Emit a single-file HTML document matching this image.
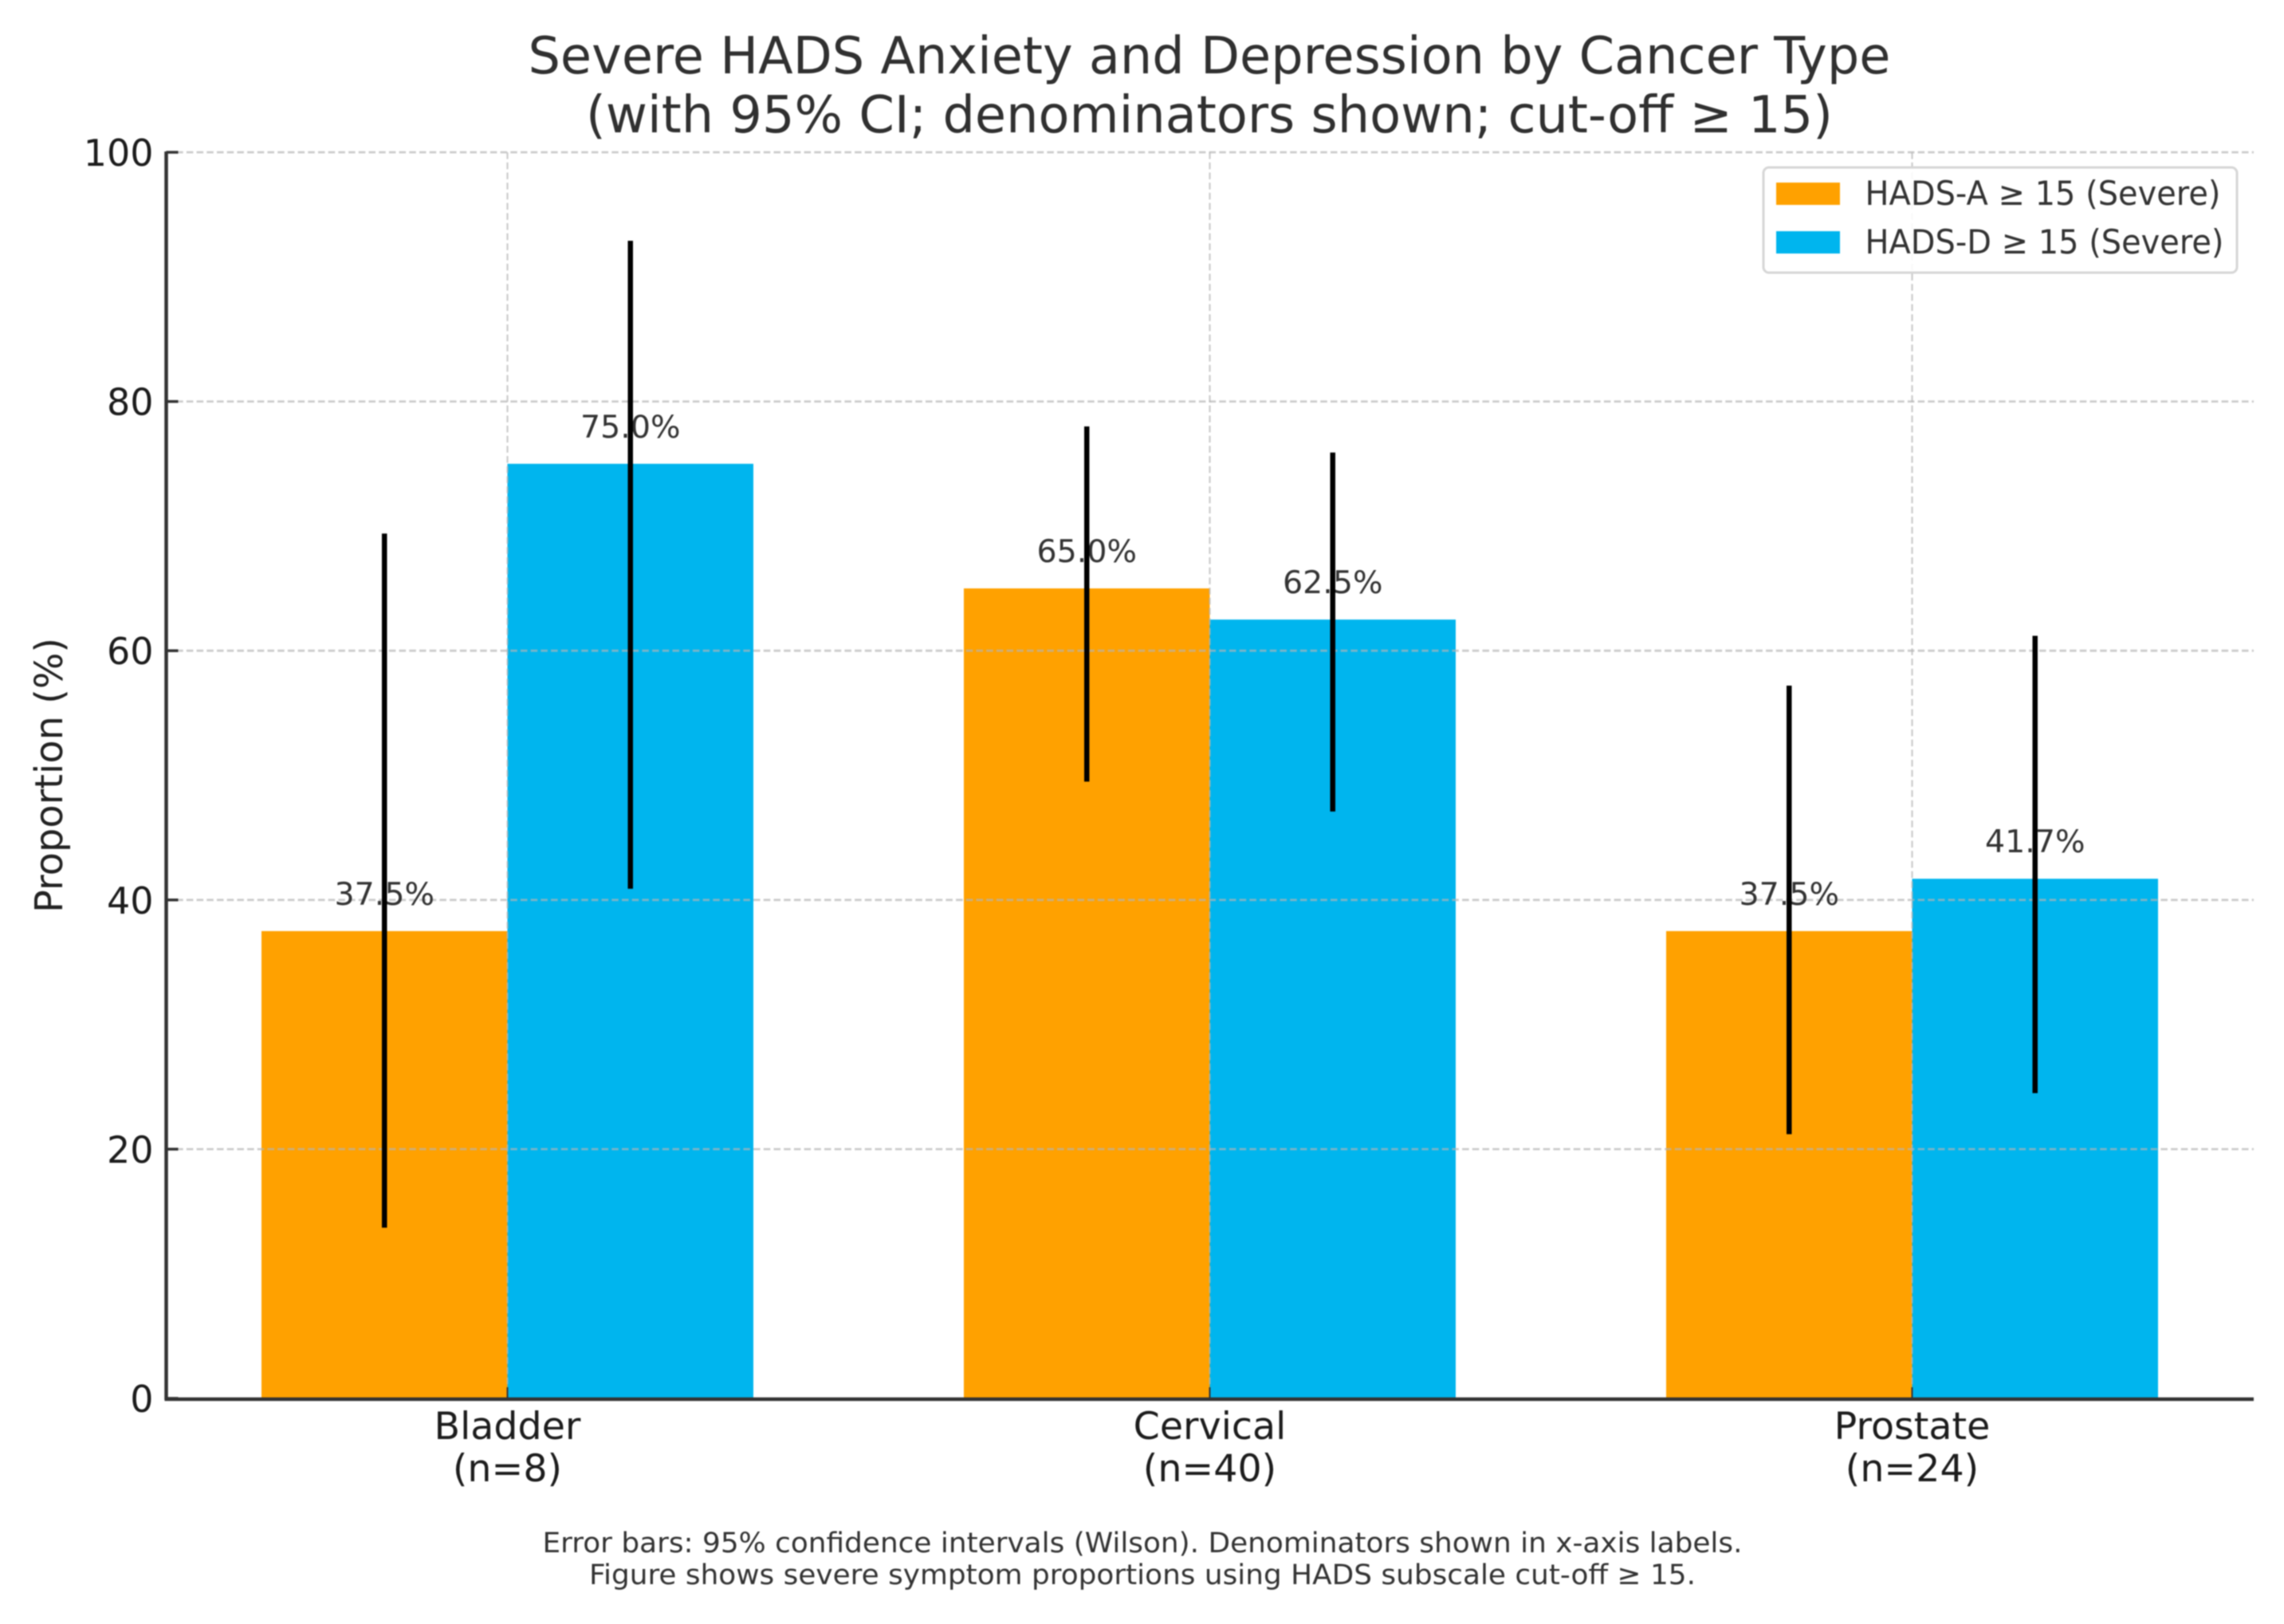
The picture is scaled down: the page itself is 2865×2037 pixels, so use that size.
<!DOCTYPE html>
<html lang="en">
<head>
<meta charset="utf-8">
<title>Severe HADS Anxiety and Depression by Cancer Type</title>
<style>
html,body{margin:0;padding:0;background:#fff;width:2865px;height:2037px;overflow:hidden}
svg{display:block;filter:blur(0.8px)}
text{font-family:"DejaVu Sans","Liberation Sans",sans-serif}
</style>
</head>
<body>
<svg id="chart" xmlns="http://www.w3.org/2000/svg" width="2865" height="2037" viewBox="0 0 2865 2037">
  <rect x="0" y="0" width="2865" height="2037" fill="#ffffff"/>
  <g id="bars"></g>
  <g id="grid"></g>
  <g id="value-labels"></g>
  <g id="errors"></g>
  <g id="axes"></g>

  <text x="1517" y="92" text-anchor="middle" font-size="64" fill="#303030" textLength="1709" lengthAdjust="spacingAndGlyphs">Severe HADS Anxiety and Depression by Cancer Type</text>
  <text x="1517" y="166" text-anchor="middle" font-size="64" fill="#303030" textLength="1564" lengthAdjust="spacingAndGlyphs">(with 95% CI; denominators shown; cut-off ≥ 15)</text>
  <text transform="translate(78,972.5) rotate(-90)" text-anchor="middle" font-size="48" fill="#222222" textLength="345" lengthAdjust="spacingAndGlyphs">Proportion (%)</text>

  <g>
    <rect x="2212" y="210" width="594" height="132" rx="7" ry="7" fill="#ffffff" fill-opacity="0.88" stroke="#d6d6d6" stroke-width="3"/>
    <rect x="2228" y="229" width="80" height="28" fill="#ffa100"/>
    <text x="2339.5" y="257" font-size="41.5" fill="#333333" textLength="446" lengthAdjust="spacingAndGlyphs">HADS-A ≥ 15 (Severe)</text>
    <rect x="2228" y="290" width="80" height="28" fill="#00b5ee"/>
    <text x="2339.5" y="318" font-size="41.5" fill="#333333" textLength="450" lengthAdjust="spacingAndGlyphs">HADS-D ≥ 15 (Severe)</text>
  </g>

  <text x="1433" y="1947" text-anchor="middle" font-size="35" fill="#333333" textLength="1505" lengthAdjust="spacingAndGlyphs">Error bars: 95% confidence intervals (Wilson). Denominators shown in x-axis labels.</text>
  <text x="1433" y="1987" text-anchor="middle" font-size="35" fill="#333333" textLength="1388" lengthAdjust="spacingAndGlyphs">Figure shows severe symptom proportions using HADS subscale cut-off ≥ 15.</text>
</svg>

<script>
const categories = ["Bladder", "Cervical", "Prostate"];
const denominators = [8, 40, 24];
const anxietyValues = [37.5, 65.0, 37.5];
const depressionValues = [75.0, 62.5, 41.7];
const anxietyCiLow = [13.7, 49.5, 21.2];
const anxietyCiHigh = [69.4, 78.0, 57.2];
const depressionCiLow = [40.9, 47.1, 24.5];
const depressionCiHigh = [92.9, 75.9, 61.2];
const yTicks = [0, 20, 40, 60, 80, 100];

const NS = "http://www.w3.org/2000/svg";
const plotLeft = 208.5, plotRight = 2827, plotBottom = 1754, plotTop = 191;
const groupWidth = 881, firstCenter = 636.5, barWidth = 308.5;

function yScale(v) { return plotBottom + (plotTop - plotBottom) * (v / 100); }
function xScale(i) { return firstCenter + groupWidth * i; }

function make(tag, parent, attrs, content) {
  const el = document.createElementNS(NS, tag);
  for (const k in attrs) el.setAttribute(k, attrs[k]);
  if (content !== undefined) el.textContent = content;
  parent.appendChild(el);
  return el;
}

const barsG = document.getElementById("bars");
const gridG = document.getElementById("grid");
const labelsG = document.getElementById("value-labels");
const errorsG = document.getElementById("errors");
const axesG = document.getElementById("axes");

function drawSeries(values, low, high, offsetSign, color, key) {
  values.forEach(function (v, i) {
    const cx = xScale(i) + offsetSign * barWidth / 2;
    const top = yScale(v);

    const bar = make("rect", barsG, { x: cx - barWidth / 2, y: top, width: barWidth, height: plotBottom - top, fill: color });
    
    

    const label = make("text", labelsG, { x: cx, y: top - 33, "text-anchor": "middle", "font-size": 39.5, fill: "#333333" }, v.toFixed(1) + "%");
    
    

    const err = make("line", errorsG, { x1: cx, x2: cx, y1: yScale(low[i]), y2: yScale(high[i]), stroke: "#000000", "stroke-width": 6.5 });
    
    
  });
}

drawSeries(anxietyValues, anxietyCiLow, anxietyCiHigh, -1, "#ffa100", "hads-a");
drawSeries(depressionValues, depressionCiLow, depressionCiHigh, 1, "#00b5ee", "hads-d");

yTicks.forEach(function (t) {
  const y = yScale(t);
  if (t > 0) {
    const g = make("line", gridG, { x1: plotLeft, x2: plotRight, y1: y, y2: y, stroke: "#b4b4b4", "stroke-opacity": 0.68, "stroke-width": 2.8, "stroke-dasharray": "8.5 4.2" });
    
    
  }
  const tick = make("line", axesG, { x1: plotLeft, x2: plotLeft + 15, y1: y, y2: y, stroke: "#333333", "stroke-width": 3.5 });
  
  
  const lab = make("text", axesG, { x: 192.5, y: y + 17, "text-anchor": "end", "font-size": 46, fill: "#1c1c1c" }, String(t));
  
  
});

categories.forEach(function (c, i) {
  const x = xScale(i);
  const g = make("line", gridG, { x1: x, x2: x, y1: plotTop, y2: plotBottom, stroke: "#b4b4b4", "stroke-opacity": 0.68, "stroke-width": 2.2, "stroke-dasharray": "8.5 4.2" });
  
  
  const tick = make("line", axesG, { x1: x, x2: x, y1: plotBottom - 14, y2: plotBottom, stroke: "#333333", "stroke-width": 2 });
  
  
  const name = make("text", axesG, { x: x, y: 1805, "text-anchor": "middle", "font-size": 47.5, fill: "#1c1c1c" }, c);
  
  
  const den = make("text", axesG, { x: x, y: 1858, "text-anchor": "middle", "font-size": 47.5, fill: "#1c1c1c" }, "(n=" + denominators[i] + ")");
  
  
});

const yAxis = make("line", axesG, { x1: plotLeft, x2: plotLeft, y1: plotTop - 1, y2: plotBottom + 2, stroke: "#333333", "stroke-width": 4.5 });


const xAxis = make("line", axesG, { x1: plotLeft - 2, x2: plotRight, y1: plotBottom + 1, y2: plotBottom + 1, stroke: "#333333", "stroke-width": 4.5 });


</script>
</body>
</html>
